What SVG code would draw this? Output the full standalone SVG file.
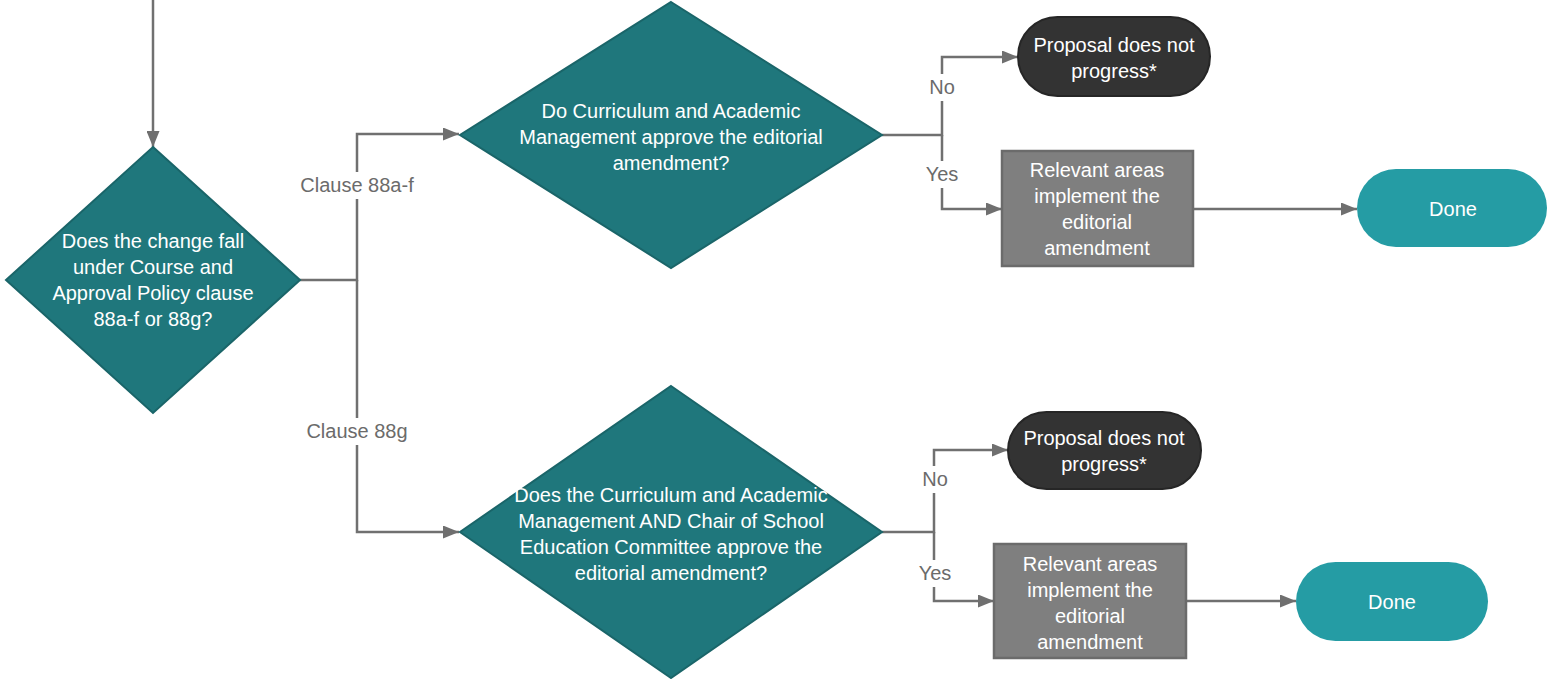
<svg xmlns="http://www.w3.org/2000/svg" width="1548" height="679" viewBox="0 0 1548 679">
<defs>
<marker id="ah" viewBox="0 0 16 13" refX="16" refY="6.5" markerWidth="16" markerHeight="13" markerUnits="userSpaceOnUse" orient="auto">
<path d="M0,0 L16,6.5 L0,13 Z" fill="#6f6f6f"/>
</marker>
<style>
.ln{fill:none;stroke:#707070;stroke-width:2.5}
.dia{fill:#1f777c;stroke:#1a6569;stroke-width:2}
.term{fill:#333333;stroke:#262626;stroke-width:2}
.proc{fill:#7f7f7f;stroke:#6b6b6b;stroke-width:2.5}
.done{fill:#259ca4}
.t{font-family:"Liberation Sans",Arial,sans-serif;font-size:20px;fill:#ffffff;text-anchor:middle}
.lbl{font-family:"Liberation Sans",Arial,sans-serif;font-size:20px;fill:#6b6b6b;text-anchor:middle}
.bg{fill:#ffffff}
</style>
</defs>
<rect width="1548" height="679" fill="#ffffff"/>
<g id="connectors">
<path class="ln" d="M153,0 V147" marker-end="url(#ah)"/>
<path class="ln" d="M300,280 H357 V134 H459" marker-end="url(#ah)"/>
<path class="ln" d="M357,280 V532 H459" marker-end="url(#ah)"/>
<path class="ln" d="M882,135 H942 V57 H1018" marker-end="url(#ah)"/>
<path class="ln" d="M942,135 V209 H1002" marker-end="url(#ah)"/>
<path class="ln" d="M1193,209 H1357" marker-end="url(#ah)"/>
<path class="ln" d="M882,532 H934 V450 H1008" marker-end="url(#ah)"/>
<path class="ln" d="M934,532 V601 H994" marker-end="url(#ah)"/>
<path class="ln" d="M1186,601 H1296" marker-end="url(#ah)"/>
<rect class="bg" x="297" y="172" width="120" height="27"/>
<text class="lbl" x="357" y="192">Clause 88a-f</text>
<rect class="bg" x="302" y="418" width="110" height="27"/>
<text class="lbl" x="357" y="438">Clause 88g</text>
<rect class="bg" x="926" y="74" width="32" height="27"/>
<text class="lbl" x="942" y="94">No</text>
<rect class="bg" x="922" y="161" width="40" height="27"/>
<text class="lbl" x="942" y="181">Yes</text>
<rect class="bg" x="919" y="466" width="32" height="27"/>
<text class="lbl" x="935" y="486">No</text>
<rect class="bg" x="915" y="560" width="40" height="27"/>
<text class="lbl" x="935" y="580">Yes</text>
</g>
<g id="d1">
<polygon class="dia" points="153,147 300,280 153,413 6,280"/>
<text class="t" x="153" y="248">Does the change fall</text>
<text class="t" x="153" y="274">under Course and</text>
<text class="t" x="153" y="300">Approval Policy clause</text>
<text class="t" x="153" y="326">88a-f or 88g?</text>
</g>
<g id="d2">
<polygon class="dia" points="671,2 882,135 671,268 460,135"/>
<text class="t" x="671" y="118">Do Curriculum and Academic</text>
<text class="t" x="671" y="144">Management approve the editorial</text>
<text class="t" x="671" y="170">amendment?</text>
</g>
<g id="n1">
<rect class="term" x="1018" y="17" width="192" height="79" rx="39.5"/>
<text class="t" x="1114" y="52">Proposal does not</text>
<text class="t" x="1114" y="78">progress*</text>
</g>
<g id="p1">
<rect class="proc" x="1002" y="151" width="191" height="115"/>
<text class="t" x="1097" y="177">Relevant areas</text>
<text class="t" x="1097" y="203">implement the</text>
<text class="t" x="1097" y="229">editorial</text>
<text class="t" x="1097" y="255">amendment</text>
</g>
<g id="done1">
<rect class="done" x="1357" y="169" width="190" height="78" rx="39"/>
<text class="t" x="1453" y="216">Done</text>
</g>
<g id="d3">
<polygon class="dia" points="671,386 882,532 671,678 460,532"/>
<text class="t" x="671" y="502">Does the Curriculum and Academic</text>
<text class="t" x="671" y="528">Management AND Chair of School</text>
<text class="t" x="671" y="554">Education Committee approve the</text>
<text class="t" x="671" y="580">editorial amendment?</text>
</g>
<g id="n2">
<rect class="term" x="1008" y="412" width="193" height="77" rx="38.5"/>
<text class="t" x="1104" y="445">Proposal does not</text>
<text class="t" x="1104" y="471">progress*</text>
</g>
<g id="p2">
<rect class="proc" x="994" y="544" width="192" height="114"/>
<text class="t" x="1090" y="571">Relevant areas</text>
<text class="t" x="1090" y="597">implement the</text>
<text class="t" x="1090" y="623">editorial</text>
<text class="t" x="1090" y="649">amendment</text>
</g>
<g id="done2">
<rect class="done" x="1296" y="562" width="192" height="79" rx="39.5"/>
<text class="t" x="1392" y="609">Done</text>
</g>
</svg>
